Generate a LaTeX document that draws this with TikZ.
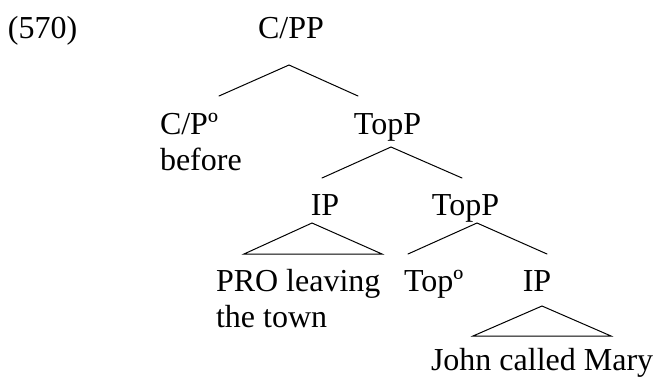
\documentclass[tikz,border=0pt]{standalone}
\usepackage{fontspec}
\setmainfont{Liberation Serif}
\begin{document}
\begin{tikzpicture}[x=1pt,y=-1pt,
  lbl/.style={inner sep=0pt,outer sep=0pt,font=\fontsize{32}{36}\selectfont},
  branch/.style={line width=1pt,line cap=round,line join=miter}]
\useasboundingbox (0,0) rectangle (656,376);
% labels
\node[lbl,anchor=base west] (num) at (8,38) {(570)};
\node[lbl,anchor=base] (cpp) at (291,38) {C/PP};
\node[lbl,anchor=base west,align=left] (cp) at (160,170) {C/Pº\\before};
\node[lbl,anchor=base] (top1) at (387.5,134) {TopP};
\node[lbl,anchor=base] (ip1) at (325,215) {IP};
\node[lbl,anchor=base] (top2) at (465.5,215) {TopP};
\node[lbl,anchor=base west,align=left] (pro) at (216,327) {PRO leaving\\the town};
\node[lbl,anchor=base west] (top0) at (404,291) {Topº};
\node[lbl,anchor=base] (ip2) at (537,291) {IP};
\node[lbl,anchor=base west] (john) at (431,370) {John called Mary};
% branch points
\coordinate (a0) at (289,65);  \coordinate (a0l) at (219,96);  \coordinate (a0r) at (358,96);
\coordinate (a1) at (391,147); \coordinate (a1l) at (322,178); \coordinate (a1r) at (462,178);
\coordinate (t1) at (312,223); \coordinate (t1l) at (244,254); \coordinate (t1r) at (382,254);
\coordinate (a2) at (477,223); \coordinate (a2l) at (408,254); \coordinate (a2r) at (547,254);
\coordinate (t2) at (542,306); \coordinate (t2l) at (473,336); \coordinate (t2r) at (611,336);
\draw[branch] (a0l) -- (a0) -- (a0r);
\draw[branch] (a1l) -- (a1) -- (a1r);
\draw[branch] (t1l) -- (t1) -- (t1r) -- cycle;
\draw[branch] (a2l) -- (a2) -- (a2r);
\draw[branch] (t2l) -- (t2) -- (t2r) -- cycle;
\end{tikzpicture}
\end{document}
